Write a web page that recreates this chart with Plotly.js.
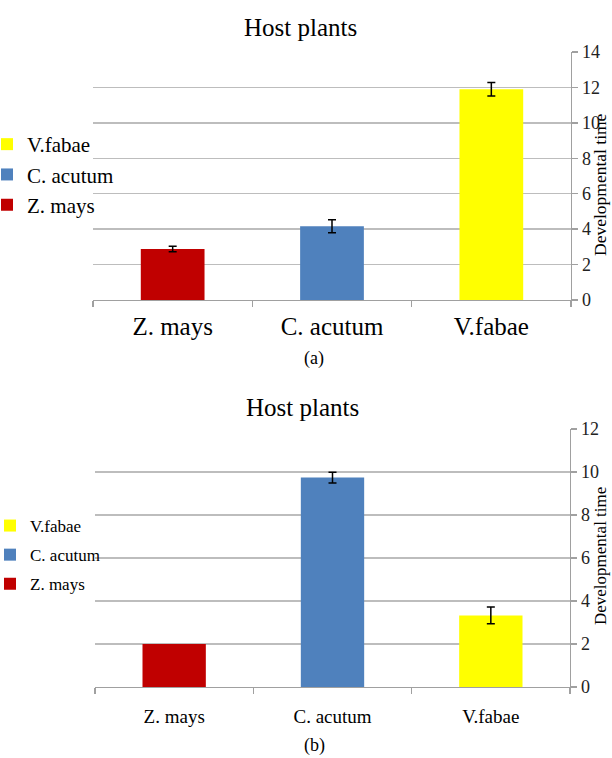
<!DOCTYPE html>
<html>
<head>
<meta charset="utf-8">
<script src="https://cdn.plot.ly/plotly-3.0.1.min.js"></script>
<style>html,body{margin:0;padding:0;background:#fff;}#chart{width:612px;height:758px;}</style>
</head>
<body>
<div id="chart"></div>
<script>
// ---- data ----
const categories = ['Z. mays', 'C. acutum', 'V.fabae'];
const valuesA = [2.88, 4.16, 11.9];
const errorsA = [0.15, 0.37, 0.38];
const valuesB = [2.0, 9.74, 3.33];
const errorsB = [0, 0.25, 0.39];
const yTicksA = [0, 2, 4, 6, 8, 10, 12, 14];
const yTicksB = [0, 2, 4, 6, 8, 10, 12];
const chartTitle = 'Host plants';
const yTitle = 'Developmental time';
const panelLabels = ['(a)', '(b)'];

// ---- styles ----
const colors = ['#c00000', '#4f81bd', '#ffff00'];
const FONT = 'Liberation Serif, Times New Roman, serif';
const W = 612, H = 758;
const px = v => v / W;
const py = v => 1 - v / H;

const traces = [];
function addPanel(values, errors, xa, ya, leg, tag) {
  categories.forEach((c, i) => {
    traces.push({
      type: 'bar',
      x: [c], y: [values[i]],
      name: c,
      width: 0.4,
      marker: {color: colors[i], line: {width: 0}},
      error_y: {type: 'data', array: [errors[i]], visible: errors[i] > 0,
                color: '#000', thickness: 1.5, width: 4},
      xaxis: xa, yaxis: ya,
      legend: leg, legendgroup: tag + i,
      legendrank: categories.length - i,
      hoverinfo: 'skip'
    });
  });
}
addPanel(valuesA, errorsA, 'x', 'y', 'legend', 'a');
addPanel(valuesB, errorsB, 'x2', 'y2', 'legend2', 'b');

const gridC = '#bdbdbd', axC = '#a0a0a0';
function xax(domain, anchor, size, standoff) {
  return {domain, anchor, type: 'category', categoryarray: categories, range: [-0.5, 2.5],
    tickson: 'boundaries', ticks: 'outside', ticklen: 6, tickcolor: axC, tickwidth: 1.3,
    showline: true, linecolor: axC, linewidth: 1.3, showgrid: false, zeroline: false,
    tickfont: {family: FONT, size, color: '#000'}, ticklabelstandoff: standoff, fixedrange: true};
}
function yax(domain, anchor, range, tv) {
  return {domain, anchor, side: 'right', range, tickvals: tv, ticktext: tv.map(String),
    ticks: 'outside', ticklen: 6, tickcolor: axC, tickwidth: 1.3,
    showline: true, linecolor: axC, linewidth: 1.3,
    showgrid: true, gridcolor: gridC, gridwidth: 1.3, zeroline: false,
    tickfont: {family: FONT, size: 18, color: '#222'}, fixedrange: true};
}

const layout = {
  width: W, height: H,
  margin: {l: 0, r: 0, t: 0, b: 0},
  paper_bgcolor: '#fff', plot_bgcolor: '#fff',
  barmode: 'overlay',
  showlegend: true,
  font: {family: FONT},
  xaxis: xax([px(93), px(571)], 'y', 25, 4),
  yaxis: yax([py(300), py(52)], 'x', [0, 14], yTicksA),
  xaxis2: xax([px(95), px(570)], 'y2', 19, 12),
  yaxis2: yax([py(687), py(429)], 'x2', [0, 12], yTicksB),
  legend: {x: 0, xanchor: 'left', y: py(124), yanchor: 'top', bgcolor: 'rgba(0,0,0,0)',
    indentation: -13,
    font: {family: FONT, size: 21, color: '#000'}, traceorder: 'grouped', tracegroupgap: 0},
  legend2: {x: 0, xanchor: 'left', y: py(508), yanchor: 'top', bgcolor: 'rgba(0,0,0,0)',
    indentation: -10,
    font: {family: FONT, size: 17, color: '#000'}, traceorder: 'grouped', tracegroupgap: 4},
  annotations: [
    {text: chartTitle, x: px(300), y: py(27), xref: 'paper', yref: 'paper', showarrow: false,
     xanchor: 'center', yanchor: 'middle', font: {family: FONT, size: 25, color: '#000'}},
    {text: chartTitle, x: px(302), y: py(407), xref: 'paper', yref: 'paper', showarrow: false,
     xanchor: 'center', yanchor: 'middle', font: {family: FONT, size: 25, color: '#000'}},
    {text: yTitle, x: px(600), y: py(185), xref: 'paper', yref: 'paper', showarrow: false,
     textangle: -90, xanchor: 'center', yanchor: 'middle', font: {family: FONT, size: 17.5, color: '#000'}},
    {text: yTitle, x: px(600), y: py(556), xref: 'paper', yref: 'paper', showarrow: false,
     textangle: -90, xanchor: 'center', yanchor: 'middle', font: {family: FONT, size: 17, color: '#000'}},
    {text: panelLabels[0], x: px(314), y: py(358), xref: 'paper', yref: 'paper', showarrow: false,
     xanchor: 'center', yanchor: 'middle', font: {family: FONT, size: 18, color: '#000'}},
    {text: panelLabels[1], x: px(314), y: py(745), xref: 'paper', yref: 'paper', showarrow: false,
     xanchor: 'center', yanchor: 'middle', font: {family: FONT, size: 18, color: '#000'}}
  ]
};

Plotly.newPlot('chart', traces, layout, {displayModeBar: false, staticPlot: true});
</script>
</body>
</html>
